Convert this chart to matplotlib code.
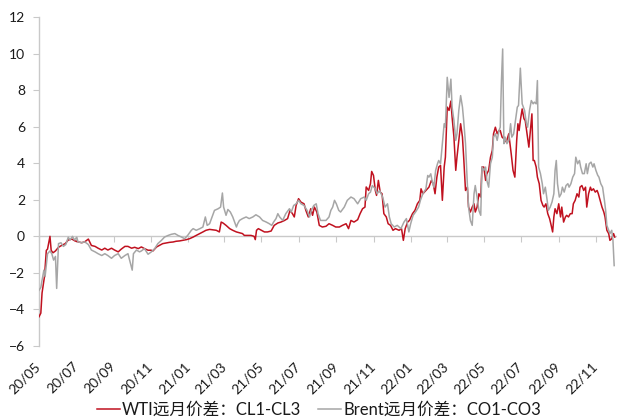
import numpy as np
import matplotlib
matplotlib.use('Agg')
import matplotlib.pyplot as plt
import matplotlib.dates as mdates
from matplotlib.transforms import ScaledTranslation

plt.rcParams['font.family'] = ['Lato', 'Noto Sans CJK SC', 'DejaVu Sans']

start_date = '2020-05-01'
series_names = ['WTI远月价差：CL1-CL3', 'Brent远月价差：CO1-CO3']
y_ticks = [-6, -4, -2, 0, 2, 4, 6, 8, 10, 12]

wti_days = [0, 3, 5, 9, 12, 14, 18, 20, 23, 27, 32, 37, 43, 48, 54, 59, 64, 70, 75, 81, 86, 92, 97, 103, 108,
            113, 119, 124, 130, 135, 141, 146, 152, 157, 163, 168, 173, 179, 184, 187, 193, 198, 203, 209, 214,
            220, 225, 231, 236, 242, 247, 253, 258, 264, 269, 274, 280, 285, 291, 296, 299, 302, 307, 313, 318,
            324, 334, 337, 343, 348, 353, 355, 357, 360, 365, 370, 375, 381, 386, 392, 397, 403, 408, 412, 416,
            419, 422, 426, 430, 435, 438, 442, 446, 449, 452, 456, 460, 465, 471, 476, 482, 487, 493, 498, 504,
            508, 512, 517, 523, 527, 531, 535, 537, 541, 544, 546, 549, 552, 554, 557, 560, 563, 566, 570, 573,
            577, 581, 585, 591, 595, 598, 601, 605, 608, 613, 617, 621, 625, 627, 630, 635, 640, 644, 647, 650,
            653, 656, 659, 662, 665, 667, 670, 673, 676, 678, 681, 684, 686, 689, 692, 695, 697, 700, 703, 705,
            708, 711, 714, 716, 719, 722, 725, 727, 730, 733, 735, 738, 741, 744, 746, 749, 752, 755, 757, 760,
            763, 767, 771, 775, 778, 781, 784, 786, 788, 790, 793, 796, 798, 801, 804, 807, 809, 811, 813, 816,
            818, 821, 824, 827, 829, 832, 835, 838, 840, 843, 845, 847, 850, 853, 856, 858, 861, 864, 866, 869,
            872, 875, 877, 880, 883, 886, 888, 891, 894, 897, 899, 902, 905, 907, 910, 913, 916, 918, 921, 924,
            927, 929, 932, 935, 937, 940, 943, 945]
wti_values = [-4.4, -4.2, -3.1, -2.2, -0.77, -0.7, 0.0, -0.77, -0.9, -0.8, -0.6, -0.5, -0.4, -0.2, -0.15, -0.25,
              -0.3, -0.35, -0.3, -0.15, -0.5, -0.55, -0.65, -0.75, -0.65, -0.75, -0.65, -0.75, -0.85, -0.7, -0.55,
              -0.55, -0.65, -0.6, -0.67, -0.58, -0.67, -0.76, -0.76, -0.8, -0.58, -0.49, -0.4, -0.36, -0.33, -0.31,
              -0.27, -0.25, -0.22, -0.18, -0.13, -0.04, 0.05, 0.15, 0.24, 0.33, 0.38, 0.36, 0.33, 0.24, 0.78, 0.73,
              0.6, 0.42, 0.33, 0.24, 0.15, 0.05, 0.05, 0.05, 0.0, -0.18, 0.33, 0.42, 0.33, 0.24, 0.24, 0.29, 0.6,
              0.73, 0.78, 0.87, 0.97, 1.42, 1.24, 1.06, 1.69, 2.06, 1.87, 1.78, 1.42, 1.06, 1.51, 1.15, 1.6, 1.33,
              0.6, 0.51, 0.55, 0.69, 0.6, 0.51, 0.51, 0.6, 0.69, 0.42, 0.87, 0.78, 0.91, 1.24, 1.51, 1.6, 2.7,
              2.51, 2.88, 3.55, 3.33, 2.51, 2.24, 3.06, 2.42, 2.33, 1.24, 1.06, 0.69, 0.6, 0.33, 0.42, 0.33, 0.42,
              -0.22, 0.42, 0.78, 0.87, 1.24, 1.42, 1.78, 1.97, 2.6, 2.33, 2.51, 2.69, 3.06, 2.88, 2.33, 3.24, 3.79,
              3.88, 1.97, 3.79, 4.33, 7.07, 6.89, 7.4, 6.52, 5.43, 3.61, 4.33, 5.25, 6.16, 5.43, 4.33, 2.51, 2.69,
              1.6, 1.33, 1.6, 1.78, 1.33, 1.6, 2.33, 2.15, 3.79, 3.79, 3.06, 3.42, 3.61, 4.33, 4.7, 5.61, 5.97,
              5.61, 5.79, 5.79, 5.43, 5.34, 5.16, 5.61, 4.52, 3.61, 3.24, 5.25, 6.16, 5.79, 6.34, 6.97, 6.43, 6.34,
              5.61, 4.88, 5.97, 6.7, 4.15, 4.15, 3.79, 3.24, 2.88, 1.97, 1.69, 1.6, 1.78, 1.24, 0.97, 0.69, 0.24,
              1.06, 1.51, 1.24, 1.78, 1.06, 1.6, 0.78, 1.06, 1.15, 1.06, 1.24, 1.24, 1.78, 1.97, 2.33, 2.15, 2.69,
              2.78, 2.51, 2.69, 1.6, 2.33, 2.69, 2.51, 2.6, 2.42, 2.51, 2.33, 1.97, 1.6, 1.33, 1.06, 0.33, 0.15,
              -0.22, -0.13, 0.15, -0.04]

brent_days = [0, 3, 5, 8, 10, 12, 14, 18, 21, 24, 27, 29, 32, 36, 40, 44, 48, 51, 55, 58, 62, 64, 70, 75, 81, 86,
              92, 97, 103, 108, 113, 119, 124, 130, 135, 141, 146, 153, 155, 160, 165, 168, 173, 179, 184, 190,
              195, 201, 206, 212, 217, 223, 228, 234, 239, 244, 250, 253, 258, 264, 269, 273, 276, 280, 284, 288,
              294, 298, 301, 303, 307, 310, 314, 318, 324, 326, 329, 334, 340, 345, 351, 356, 362, 367, 373, 378,
              382, 385, 389, 392, 395, 400, 405, 411, 414, 418, 422, 426, 430, 435, 440, 444, 447, 451, 455, 458,
              462, 465, 471, 476, 479, 482, 485, 488, 492, 495, 501, 506, 512, 517, 523, 528, 534, 537, 541, 544,
              547, 552, 555, 559, 564, 568, 572, 575, 578, 583, 588, 594, 599, 603, 607, 610, 614, 618, 623, 626,
              630, 635, 638, 640, 643, 645, 648, 651, 654, 656, 659, 662, 665, 667, 670, 673, 676, 678, 681, 684,
              686, 689, 692, 695, 697, 700, 703, 705, 708, 711, 714, 716, 719, 722, 725, 727, 730, 733, 735, 738,
              741, 744, 746, 749, 752, 755, 757, 759, 761, 763, 765, 768, 771, 774, 776, 779, 782, 785, 787, 790,
              793, 794, 797, 800, 802, 805, 808, 811, 813, 816, 818, 820, 823, 826, 828, 831, 834, 836, 839, 842,
              845, 847, 849, 851, 854, 857, 859, 862, 865, 868, 870, 873, 876, 879, 881, 884, 887, 889, 892, 895,
              898, 900, 903, 906, 909, 911, 914, 917, 919, 922, 925, 928, 930, 932, 935, 937, 940, 942, 944]
brent_values = [-2.95, -2.8, -2.4, -1.85, -2.2, -1.6, -0.95, -0.8, -0.95, -1.3, -1.1, -2.85, -0.4, -0.35, -0.55,
                -0.45, -0.05, -0.2, 0.0, -0.2, -0.05, -0.3, -0.35, -0.3, -0.45, -0.75, -0.85, -0.95, -1.05, -0.95,
                -1.05, -1.2, -1.05, -0.95, -1.2, -1.05, -0.95, -1.85, -0.95, -0.75, -0.85, -0.8, -0.67, -0.98,
                -0.86, -0.67, -0.4, -0.22, -0.04, 0.05, 0.11, 0.15, 0.05, -0.04, -0.13, 0.05, 0.33, 0.42, 0.33,
                0.42, 0.51, 1.06, 0.6, 0.69, 1.06, 1.42, 1.51, 1.6, 2.37, 1.6, 1.15, 1.47, 1.33, 1.06, 0.51, 0.69,
                0.87, 0.97, 1.06, 0.97, 1.06, 1.18, 1.06, 0.87, 0.78, 0.69, 0.6, 0.78, 0.97, 1.24, 1.06, 0.87, 1.24,
                1.51, 1.33, 1.69, 1.78, 1.97, 1.78, 1.69, 1.42, 1.06, 1.42, 1.69, 1.78, 1.24, 0.87, 0.87, 0.87,
                1.06, 1.42, 1.6, 1.97, 1.78, 1.42, 1.33, 1.6, 1.97, 2.15, 2.06, 1.78, 2.06, 2.15, 1.97, 2.33, 2.42,
                2.78, 2.6, 2.33, 2.51, 2.15, 1.6, 1.78, 1.06, 0.69, 0.51, 0.6, 0.42, 0.78, 0.97, 0.24, 0.69, 1.15,
                1.33, 1.6, 1.97, 2.33, 2.6, 3.33, 3.24, 3.42, 3.06, 2.69, 3.61, 3.97, 4.15, 3.97, 5.07, 6.16, 5.97,
                8.7, 7.6, 8.6, 7.07, 6.34, 5.25, 5.61, 6.89, 7.7, 7.07, 6.34, 5.07, 2.88, 1.6, 0.87, 0.6, 2.33,
                2.78, 2.15, 1.42, 1.15, 3.79, 3.61, 3.79, 3.06, 2.69, 3.97, 4.33, 5.43, 5.61, 5.25, 5.79, 5.97,
                8.52, 10.25, 5.07, 5.43, 5.07, 5.25, 6.16, 5.43, 5.6, 6.34, 7.07, 7.16, 9.2, 7.25, 7.16, 6.88,
                6.16, 5.97, 6.88, 7.43, 7.25, 7.34, 7.25, 8.52, 3.79, 3.43, 2.88, 2.33, 2.69, 1.97, 1.42, 1.6,
                1.88, 2.33, 3.61, 4.15, 2.88, 2.15, 2.33, 2.69, 2.42, 2.78, 2.88, 2.69, 2.88, 3.24, 3.43, 4.33,
                3.97, 4.15, 3.79, 3.43, 3.43, 3.97, 3.43, 3.97, 4.06, 3.79, 3.97, 3.61, 3.34, 3.24, 2.88, 2.69,
                1.97, 1.42, 0.6, 0.33, 0.15, 0.33, -0.22, -1.6]

base = np.datetime64(start_date)
wti_dates = base + np.array(wti_days, dtype='timedelta64[D]')
brent_dates = base + np.array(brent_days, dtype='timedelta64[D]')

W, H = 617, 419
fig = plt.figure(figsize=(W / 100, H / 100), dpi=100)
ax = fig.add_axes([39 / W, 1 - 346 / H, (616 - 39) / W, (346 - 17) / H])

red = '#C0111F'
grey = '#A6A6A6'
axis_grey = '#C9C9C9'
text_col = '#1A1A1A'

ax.plot(wti_dates, wti_values, color=red, lw=1.1, label=series_names[0], zorder=3)
ax.plot(brent_dates, brent_values, color=grey, lw=1.1, label=series_names[1], zorder=4)

ax.set_ylim(y_ticks[0], y_ticks[-1])
ax.set_xlim(base, base + np.timedelta64(947, 'D'))
ax.set_yticks(y_ticks)
ax.tick_params(axis='y', length=4, width=0.8, color=axis_grey, labelsize=10, labelcolor=text_col, pad=6)

for s in ['top', 'right']:
    ax.spines[s].set_visible(False)
ax.spines['left'].set_color(axis_grey)
ax.spines['left'].set_linewidth(1.0)
ax.spines['bottom'].set_position(('data', 0))
ax.spines['bottom'].set_color(axis_grey)
ax.spines['bottom'].set_linewidth(1.0)
ax.spines['bottom'].set_zorder(2)

ax.xaxis.set_major_locator(mdates.MonthLocator(bymonth=[1, 3, 5, 7, 9, 11]))
ax.tick_params(axis='x', length=4, width=0.8, color=axis_grey, direction='out', labelbottom=False)

ax2 = ax.twiny()
ax2.set_xlim(ax.get_xlim())
ax2.xaxis.set_major_locator(mdates.MonthLocator(bymonth=[1, 3, 5, 7, 9, 11]))
ax2.xaxis.set_major_formatter(mdates.DateFormatter('%y/%m'))
ax2.xaxis.set_ticks_position('bottom')
ax2.xaxis.set_label_position('bottom')
ax2.tick_params(axis='x', length=0, labelsize=10, labelcolor=text_col, pad=10,
                labelbottom=True, labeltop=False)
for s in ax2.spines.values():
    s.set_visible(False)
offset = ScaledTranslation(4 / 100, 0, fig.dpi_scale_trans)
for lab in ax2.get_xticklabels():
    lab.set_rotation(45)
    lab.set_ha('right')
    lab.set_va('top')
    lab.set_transform(lab.get_transform() + offset)

handles, labels = ax.get_legend_handles_labels()
fig.legend(handles, labels, loc='center', bbox_to_anchor=(319 / W, 1 - 410 / H), ncol=2, frameon=False,
           fontsize=12, handlelength=1.35, handletextpad=0.15, columnspacing=1.0, labelcolor=text_col)

fig.savefig('out.png', dpi=100)
